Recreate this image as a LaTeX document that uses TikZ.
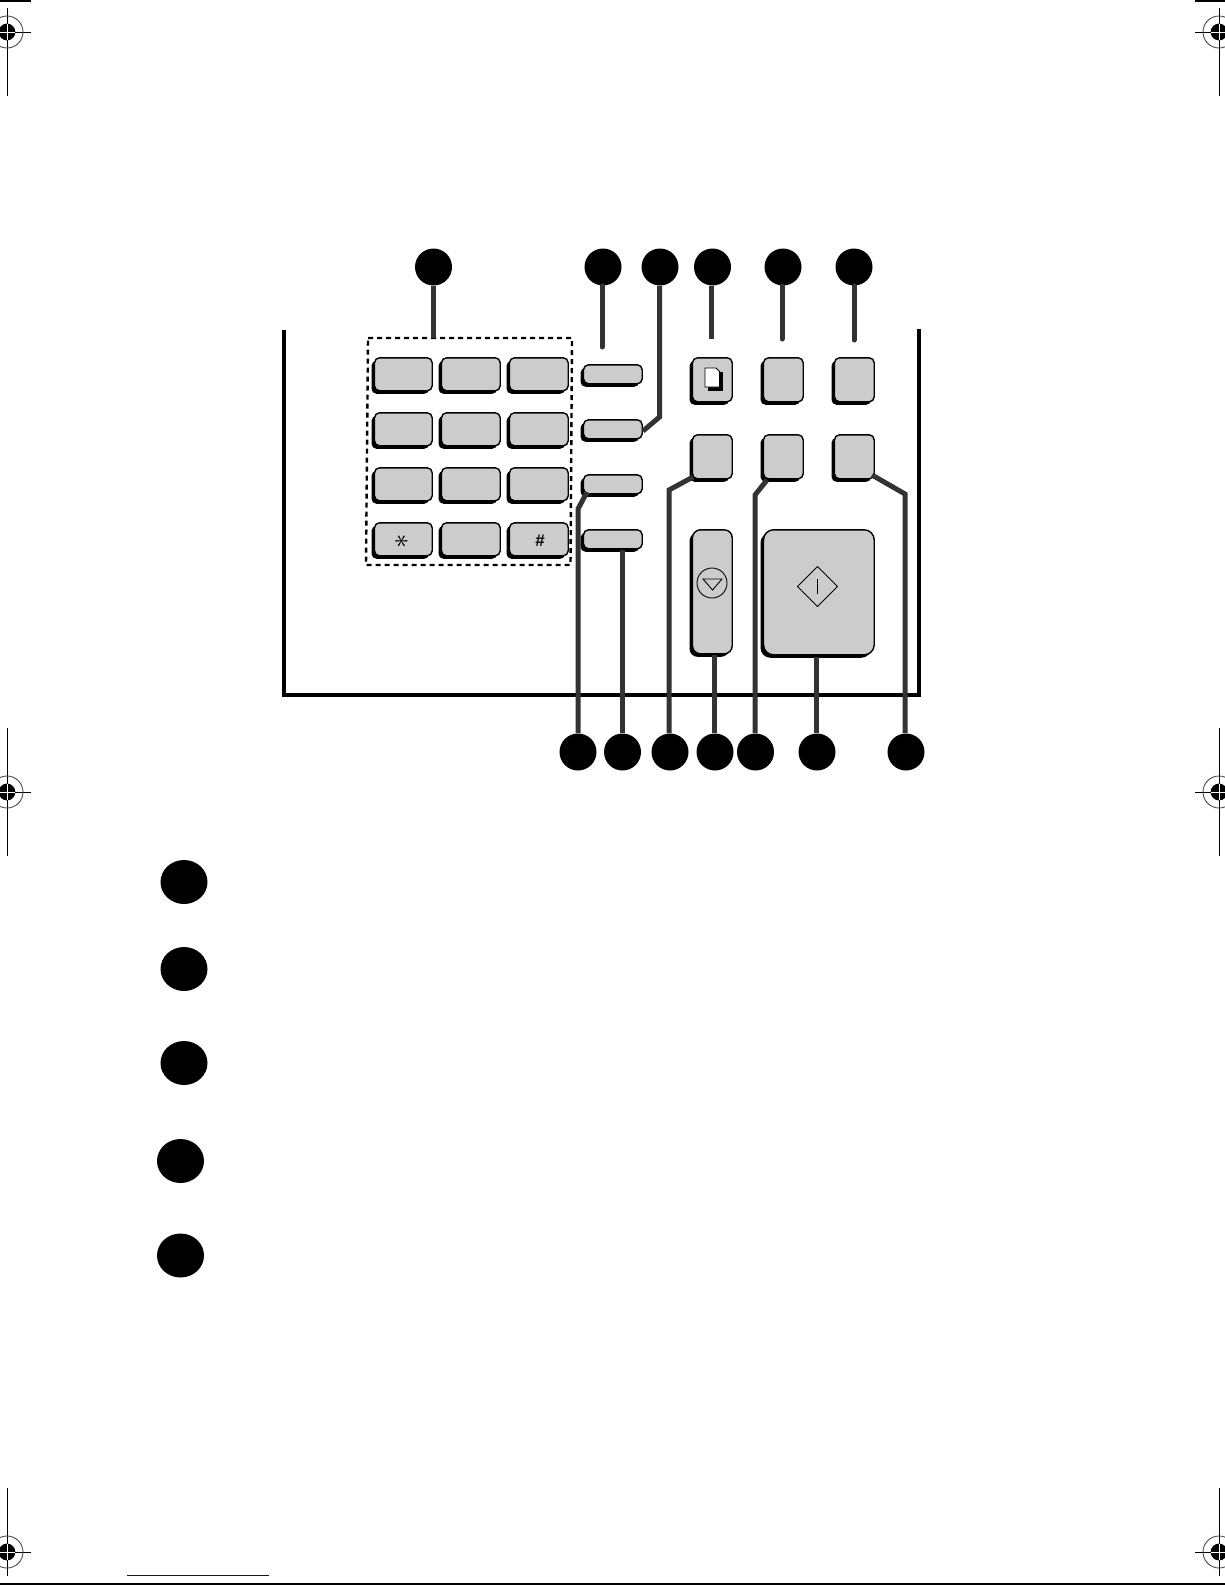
\documentclass[tikz,border=0pt]{standalone}
\usepackage{fontspec}
\setmainfont{Liberation Sans}
\usetikzlibrary{shadows,calc,shapes.geometric}
\definecolor{keygray}{HTML}{CCCCCC}
\definecolor{leader}{HTML}{333333}
\tikzset{
  keybase/.style={draw=black,line width=0.7pt,fill=keygray,rounded corners=2.5pt,inner sep=0pt,
    general shadow={fill=black,shadow xshift=-1.5pt,shadow yshift=-1.5pt}},
  callout/.style={circle,fill=black,inner sep=0pt,minimum size=18.5pt},
  legendmark/.style={ellipse,fill=black,inner sep=0pt,minimum width=23.5pt,minimum height=22pt},
  leaderline/.style={draw=leader,line width=2.5pt,line join=miter},
  frameline/.style={draw=black,line width=2pt},
  groupbox/.style={draw=black,line width=1.2pt,dash pattern=on 2.5pt off 2pt},
  regline/.style={draw=black,line width=0.5pt},
}
% outer box in px (x0,y0)-(x1,y1): face sits 3px right of x0 and 3px above y1
\newcommand{\keynode}[6][]{%
  \path let \n1={#3+1.5}, \n2={#4+0.8}, \n3={#5-0.8}, \n4={#6-2.2} in
    node[keybase,#1,minimum width={(\n3-\n1)*0.5pt},minimum height={(\n4-\n2)*0.5pt},anchor=center]
    (#2) at ({(\n1+\n3)/2},{(\n2+\n4)/2}) {};}
\newcommand{\regmark}[6]{%
  \draw[regline] (#3,#2) -- (#4,#2);
  \draw[regline] (#1,#5) -- (#1,#6);
  \draw[draw=black!70,line width=0.45pt] (#1,#2) circle[radius=8pt];
  \fill[black] (#1,#2) circle[radius=4.2pt];
  \draw[white,line width=0.5pt] (#1-8,#2) -- (#1+8,#2) (#1,#2-8) -- (#1,#2+8);}
\begin{document}
\begin{tikzpicture}[x=0.5pt,y=-0.5pt]
\useasboundingbox (0,0) rectangle (1225,1585);
\clip (0,0) rectangle (1225,1585);
\fill[white] (0,0) rectangle (1225,1585);

% registration marks and page edges
\regmark{7}{32}{0}{31}{8}{96}
\regmark{1219}{32}{1195}{1225}{8}{96}
\regmark{7}{792}{0}{31}{728}{856}
\regmark{1219}{792}{1195}{1225}{728}{856}
\regmark{7}{1552}{0}{31}{1488}{1576}
\regmark{1219}{1552}{1195}{1225}{1488}{1576}
\draw[line width=1.2pt] (0,0.5) -- (31,0.5) (1195,0.5) -- (1225,0.5);
\draw[line width=0.6pt] (0,1584) -- (1225,1584);
\draw[line width=1.2pt] (0,1584) -- (31,1584) (1195,1584) -- (1225,1584);
\draw[draw={rgb,255:red,0;green,0;blue,204},line width=0.5pt] (127,1575.5) -- (269,1575.5);

% panel frame
\coordinate (ftl) at (284,330);
\coordinate (fbl) at (284,695);
\coordinate (fbr) at (919,695);
\coordinate (ftr) at (919,329);
\draw[frameline,line join=miter] (ftl) -- (fbl) -- (fbr) -- (ftr);

% dashed keypad group
\coordinate (dtl) at (368,338);
\coordinate (dtr) at (572,338);
\coordinate (dbr) at (570.5,565);
\coordinate (dbl) at (366,565);
\draw[groupbox] (dtl) -- (dtr) -- (dbr) -- (dbl) -- cycle;

% keypad
\keynode{k11}{373}{357}{433}{393}
\keynode{k12}{440}{357}{501}{393}
\keynode{k13}{508}{357}{569}{393}
\keynode{k21}{373}{412}{433}{448}
\keynode{k22}{440}{412}{501}{448}
\keynode{k23}{508}{412}{569}{448}
\keynode{k31}{373}{467}{433}{503}
\keynode{k32}{440}{467}{501}{503}
\keynode{k33}{508}{467}{569}{503}
\keynode{k41}{373}{522}{433}{558}
\keynode{k42}{440}{522}{501}{558}
\keynode{k43}{508}{522}{569}{558}
\node[rotate=90,inner sep=0pt,font=\fontsize{15}{15}\selectfont] (star) at (402,541.5) {$\ast$};
\node[inner sep=0pt,font=\bfseries\fontsize{8.5}{10}\selectfont] (hash) at (540,541) {\#};

% narrow keys
\keynode{s1}{582}{364}{643}{386}
\keynode{s2}{582}{419}{643}{441}
\keynode{s3}{582}{474}{643}{496}
\keynode{s4}{582}{529}{643}{551}

% square keys
\keynode{a1}{691}{357}{733}{404}
\keynode{a2}{762}{357}{804}{404}
\keynode{a3}{833}{357}{875}{404}
\keynode{b1}{691}{434}{733}{481}
\keynode{b2}{762}{434}{804}{481}
\keynode{b3}{833}{434}{875}{481}

% stop and start keys
\keynode[rounded corners=4pt]{stopkey}{691}{529}{733}{656}
\keynode[rounded corners=5pt]{startkey}{762}{529}{875}{657}

% copy icon
\fill[black] (708,372) rectangle (722.5,390.5);
\draw[black,fill=white,line width=0.4pt] (705,368) -- (716,368) -- (719.5,371.5) -- (719.5,387) -- (705,387) -- cycle;

% stop icon
\draw[line width=0.45pt] (712,583) circle[radius=7.5pt];
\draw[line width=0.45pt,line join=miter] (703,579) -- (722,579) -- (712.5,590) -- cycle;

% start icon
\draw[line width=0.45pt,line join=miter] (797.5,586.5) -- (817.5,566.5) -- (837.5,586.5) -- (817.5,606.5) -- cycle;
\draw[line width=0.45pt] (817.5,579) -- (817.5,594);

% callouts, top row
\node[callout] (c1) at (433.5,267) {};
\node[callout] (c2) at (603,267) {};
\node[callout] (c3) at (660,267) {};
\node[callout] (c4) at (712.5,267) {};
\node[callout] (c5) at (783,267) {};
\node[callout] (c6) at (854,267) {};
% callouts, bottom row
\node[callout] (d1) at (578,752) {};
\node[callout] (d2) at (622.5,752) {};
\node[callout] (d3) at (670,752) {};
\node[callout] (d4) at (715,752) {};
\node[callout] (d5) at (755.5,752) {};
\node[callout] (d6) at (817,752) {};
\node[callout] (d7) at (906,752) {};
% legend marks
\node[legendmark] (m1) at (184,882) {};
\node[legendmark] (m2) at (184,969) {};
\node[legendmark] (m3) at (184,1063) {};
\node[legendmark] (m4) at (180.5,1161) {};
\node[legendmark] (m5) at (180.5,1255.5) {};

% leader ends and bends
\coordinate (e1) at (433,338);
\coordinate (e2) at (602,347);
\coordinate (e3) at (659.5,417);
\coordinate (f3) at (643,431);
\coordinate (e4) at (711.5,339);
\coordinate (e5) at (782,339);
\coordinate (e6) at (854,340);
\coordinate (g1) at (587,492);
\coordinate (h1) at (578,509);
\coordinate (g2) at (622,550);
\coordinate (g3) at (693,477);
\coordinate (h3) at (669,490);
\coordinate (g4) at (714,655);
\coordinate (g5) at (767,480);
\coordinate (h5) at (755,495);
\coordinate (g6) at (816,657);
\coordinate (g7) at (872,475);
\coordinate (h7) at (905,494);

\draw[leaderline] (e1 |- c1.south) -- (e1);
\draw[leaderline,line cap=round] (e2 |- c2.south) -- (e2);
\draw[leaderline] (e3 |- c3.south) -- (e3) -- (f3);
\draw[leaderline] (e4 |- c4.south) -- (e4);
\draw[leaderline,line cap=round] (e5 |- c5.south) -- (e5);
\draw[leaderline,line cap=round] (e6 |- c6.south) -- (e6);
\draw[leaderline] (g1) -- (h1) -- (h1 |- d1.north);
\draw[leaderline] (g2) -- (g2 |- d2.north);
\draw[leaderline] (g3) -- (h3) -- (h3 |- d3.north);
\draw[leaderline] (g4) -- (g4 |- d4.north);
\draw[leaderline] (g5) -- (h5) -- (h5 |- d5.north);
\draw[leaderline] (g6) -- (g6 |- d6.north);
\draw[leaderline] (g7) -- (h7) -- (h7 |- d7.north);
\end{tikzpicture}
\end{document}
